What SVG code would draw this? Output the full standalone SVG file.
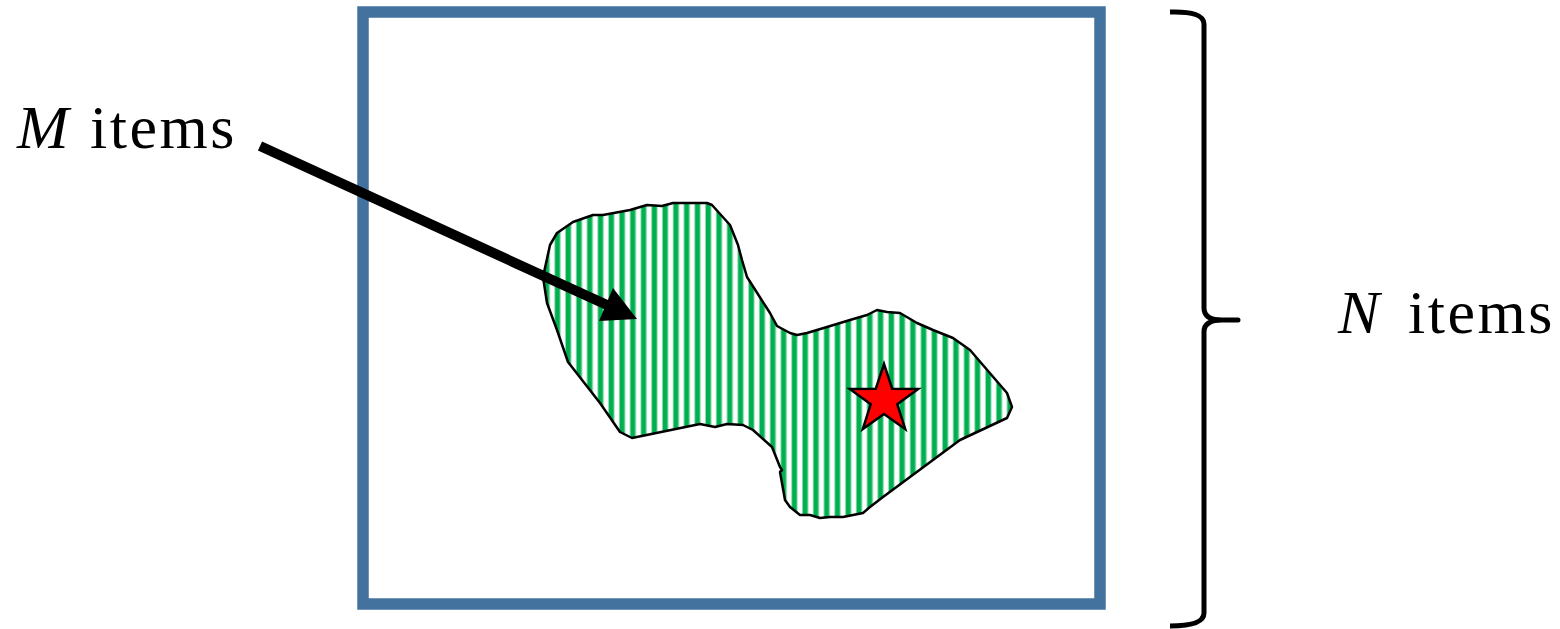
<svg xmlns="http://www.w3.org/2000/svg" width="1560" height="629" viewBox="0 0 1560 629">
<style>
.lbl{font-family:"Liberation Serif","DejaVu Serif",serif;font-size:62px;fill:#000}
.var{font-style:italic}
.word{letter-spacing:2.5px}
</style>
<defs>
<pattern id="stripes" patternUnits="userSpaceOnUse" x="565" y="0" width="10.77" height="20">
<rect x="0" y="0" width="10.77" height="20" fill="#ffffff"/>
<rect x="0" y="0" width="6.5" height="20" fill="#8fdcb0"/>
<rect x="1" y="0" width="4.5" height="20" fill="#00b050"/>
</pattern>
</defs>
<rect width="1560" height="629" fill="#ffffff"/>
<g id="frame">
<rect x="363" y="12" width="737" height="592" fill="none" stroke="#44729e" stroke-width="11.5"/>
</g>
<g id="region">
<path d="M573,222 L593,215 L603,215 L630,210 L647,205 L662,206 L673,203 L707,203 L712,205 L730,225 L738,245 L742,260 L747,277 L770,313 L777,326 L790,333 L797,335 L807,333 L827,327 L850,320 L867,315 L877,310 L887,312 L900,313 L917,323 L933,330 L953,338 L970,350 L1007,393 L1012,407 L1007,418 L960,440 L883,497 L870,507 L863,513 L843,517 L830,517 L820,518 L810,515 L800,515 L790,507 L785,500 L780,472 L782,470 L780,467 L772,447 L753,430 L743,425 L727,424 L715,427 L700,424 L632,438 L620,432 L600,403 L568,362 L557,330 L547,303 L543,277 L550,245 L557,233 Z" fill="url(#stripes)" stroke="#000" stroke-width="2.5" stroke-linejoin="round"/>
</g>
<g id="target">
<polygon points="884,364 892.2,388.7 918.2,388.9 897.3,404.3 905.2,429.1 884,414 862.8,429.1 870.7,404.3 849.8,388.9 875.8,388.7" fill="#ff0000" stroke="#000" stroke-width="2.5" stroke-linejoin="miter"/>
</g>
<g id="label-m">
<text class="lbl" y="148"><tspan class="var" x="17">M</tspan><tspan class="word" x="90">items</tspan></text>
</g>
<g id="label-n">
<text class="lbl" y="333"><tspan class="var" x="1338">N</tspan><tspan class="word" x="1408">items</tspan></text>
</g>
<g id="brace">
<path d="M1170,12 Q1204,11 1204,24 L1204,308 Q1204,320 1222,320 L1238,320 L1222,320 Q1204,320 1204,332 L1204,613 Q1204,626 1170,626" fill="none" stroke="#000" stroke-width="5" stroke-linejoin="round"/>
</g>
<g id="connectors">
<line x1="260" y1="146" x2="607" y2="305" stroke="#000" stroke-width="10"/>
<polygon points="637,319 599,321 613,288" fill="#000"/>
</g>
</svg>
